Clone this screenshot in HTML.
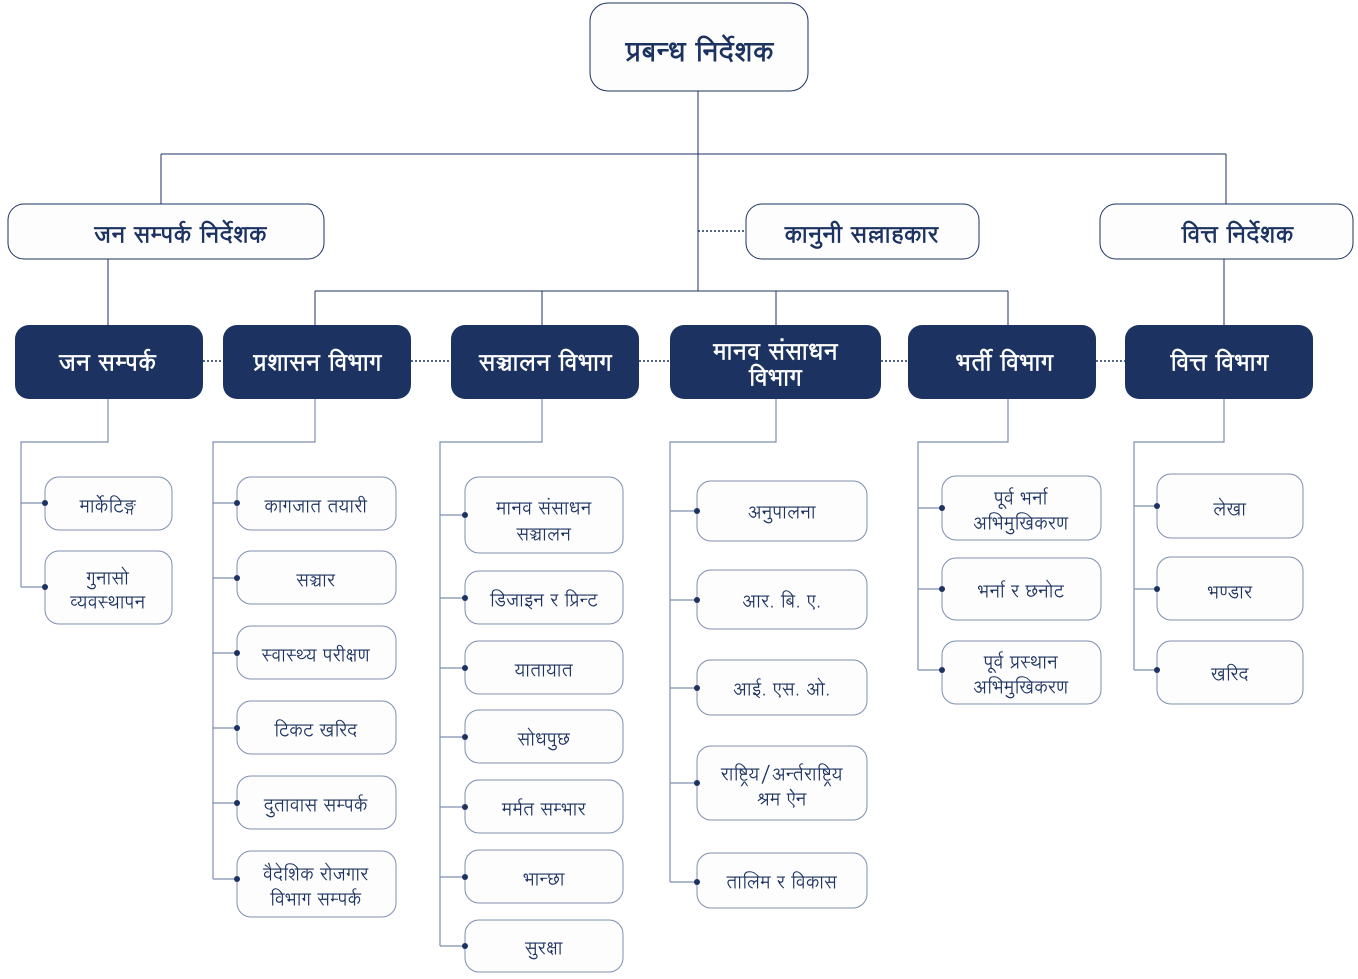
<!DOCTYPE html>
<html><head><meta charset="utf-8"><style>
body{margin:0;background:#fff}
svg{display:block}
text{font-family:"Lohit Devanagari","Noto Sans Devanagari","Liberation Serif",serif;fill:#1c3260;text-anchor:middle;dominant-baseline:central;transform:translateY(3px);letter-spacing:0.5px}
.c{fill:#fdfdfd;stroke:#7f8fb0;stroke-width:1}
.t{fill:#fdfdfd;stroke:#1c3260;stroke-width:1}
.d{fill:#1c3260}
.w{fill:#fff;font-size:23px;font-weight:bold;letter-spacing:1px}
.s{font-size:18px}
.m{font-size:23px;font-weight:bold;letter-spacing:1px}
.ln{stroke:#1c3260;stroke-width:1;fill:none}
.lc{stroke:#7f8fb0;stroke-width:1.2;fill:none}
.dt{stroke:#1c3260;stroke-width:1.5;stroke-dasharray:2 2;fill:none}
</style></head><body>
<svg width="1358" height="979" viewBox="0 0 1358 979">
<path class="ln" d="M698 91V291M161 154H1226M161 154V204M1226 154V204M108 259V325M1224 259V325M315 291H1008M315 291V325M542 291V325M776 291V325M1008 291V325"/>
<path class="dt" d="M698 231H746M203 361H223M411 361H451M639 361H670M881 361H908M1096 361H1125"/>
<rect class="t" x="590" y="3" width="218" height="88" rx="18"/>
<text x="700" y="50" style="font-size:27px;font-weight:bold;letter-spacing:1px">प्रबन्ध निर्देशक</text>
<rect class="t" x="8" y="204" width="316" height="55" rx="16"/>
<text x="181" y="233" class="m">जन सम्पर्क निर्देशक</text>
<rect class="t" x="746" y="204" width="233" height="55" rx="16"/>
<text x="862" y="233" class="m">कानुनी सल्लाहकार</text>
<rect class="t" x="1100" y="204" width="253" height="55" rx="16"/>
<text x="1238" y="233" class="m">वित्त निर्देशक</text>
<rect class="d" x="15" y="325" width="188" height="74" rx="14"/>
<text x="108" y="361" class="w">जन सम्पर्क</text>
<rect class="d" x="223" y="325" width="188" height="74" rx="14"/>
<text x="318" y="361" class="w">प्रशासन विभाग</text>
<rect class="d" x="451" y="325" width="188" height="74" rx="14"/>
<text x="546" y="361" class="w">सञ्चालन विभाग</text>
<rect class="d" x="670" y="325" width="211" height="74" rx="14"/>
<text x="776" y="350" class="w">मानव संसाधन</text>
<text x="776" y="376" class="w">विभाग</text>
<rect class="d" x="908" y="325" width="188" height="74" rx="14"/>
<text x="1005" y="361" class="w">भर्ती विभाग</text>
<rect class="d" x="1125" y="325" width="188" height="74" rx="14"/>
<text x="1220" y="361" class="w">वित्त विभाग</text>
<path class="lc" d="M108 399V442H21V587M21 503H45M21 587H45"/>
<path class="lc" d="M315 399V442H213V879M213 503H237M213 578H237M213 653H237M213 728H237M213 803H237M213 879H237"/>
<path class="lc" d="M542 399V442H440V946M440 515H465M440 598H465M440 668H465M440 737H465M440 807H465M440 877H465M440 946H465"/>
<path class="lc" d="M776 399V442H670V882M670 511H697M670 600H697M670 688H697M670 783H697M670 882H697"/>
<path class="lc" d="M1008 399V442H918V670M918 508H942M918 589H942M918 670H942"/>
<path class="lc" d="M1224 399V442H1134V670M1134 506H1157M1134 589H1157M1134 670H1157"/>
<rect class="c" x="45" y="477" width="127" height="53" rx="14"/><text x="108" y="505" class="s">मार्केटिङ्ग</text>
<rect class="c" x="45" y="551" width="127" height="73" rx="14"/><text x="108" y="577" class="s">गुनासो</text><text x="108" y="601" class="s">व्यवस्थापन</text>
<rect class="c" x="237" y="477" width="159" height="53" rx="14"/><text x="316" y="505" class="s">कागजात तयारी</text>
<rect class="c" x="237" y="551" width="159" height="53" rx="14"/><text x="316" y="579" class="s">सञ्चार</text>
<rect class="c" x="237" y="626" width="159" height="53" rx="14"/><text x="316" y="654" class="s">स्वास्थ्य परीक्षण</text>
<rect class="c" x="237" y="701" width="159" height="53" rx="14"/><text x="316" y="729" class="s">टिकट खरिद</text>
<rect class="c" x="237" y="776" width="159" height="53" rx="14"/><text x="316" y="804" class="s">दुतावास सम्पर्क</text>
<rect class="c" x="237" y="851" width="159" height="66" rx="14"/><text x="316" y="873" class="s">वैदेशिक रोजगार</text><text x="316" y="898" class="s">विभाग सम्पर्क</text>
<rect class="c" x="465" y="477" width="158" height="76" rx="14"/><text x="544" y="507" class="s">मानव संसाधन</text><text x="544" y="533" class="s">सञ्चालन</text>
<rect class="c" x="465" y="571" width="158" height="53" rx="14"/><text x="544" y="599" class="s">डिजाइन र प्रिन्ट</text>
<rect class="c" x="465" y="641" width="158" height="53" rx="14"/><text x="544" y="669" class="s">यातायात</text>
<rect class="c" x="465" y="710" width="158" height="53" rx="14"/><text x="544" y="738" class="s">सोधपुछ</text>
<rect class="c" x="465" y="780" width="158" height="53" rx="14"/><text x="544" y="808" class="s">मर्मत सम्भार</text>
<rect class="c" x="465" y="850" width="158" height="53" rx="14"/><text x="544" y="878" class="s">भान्छा</text>
<rect class="c" x="465" y="920" width="158" height="52" rx="14"/><text x="544" y="947" class="s">सुरक्षा</text>
<rect class="c" x="697" y="481" width="170" height="60" rx="14"/><text x="782" y="511" class="s">अनुपालना</text>
<rect class="c" x="697" y="570" width="170" height="59" rx="14"/><text x="782" y="600" class="s">आर. बि. ए.</text>
<rect class="c" x="697" y="660" width="170" height="55" rx="14"/><text x="782" y="688" class="s">आई. एस. ओ.</text>
<rect class="c" x="697" y="746" width="170" height="74" rx="14"/><text x="782" y="773" class="s">राष्ट्रिय/अर्न्तराष्ट्रिय</text><text x="782" y="798" class="s">श्रम ऐन</text>
<rect class="c" x="697" y="853" width="170" height="55" rx="14"/><text x="782" y="881" class="s">तालिम र विकास</text>
<rect class="c" x="942" y="476" width="159" height="64" rx="14"/><text x="1021" y="497" class="s">पूर्व भर्ना</text><text x="1021" y="522" class="s">अभिमुखिकरण</text>
<rect class="c" x="942" y="558" width="159" height="62" rx="14"/><text x="1021" y="590" class="s">भर्ना र छनोट</text>
<rect class="c" x="942" y="641" width="159" height="63" rx="14"/><text x="1021" y="661" class="s">पूर्व प्रस्थान</text><text x="1021" y="686" class="s">अभिमुखिकरण</text>
<rect class="c" x="1157" y="474" width="146" height="64" rx="14"/><text x="1230" y="508" class="s">लेखा</text>
<rect class="c" x="1157" y="557" width="146" height="63" rx="14"/><text x="1230" y="591" class="s">भण्डार</text>
<rect class="c" x="1157" y="641" width="146" height="63" rx="14"/><text x="1230" y="673" class="s">खरिद</text>
<g fill="#1c3260">
<circle cx="45" cy="503" r="3"/><circle cx="45" cy="587" r="3"/>
<circle cx="237" cy="503" r="3"/><circle cx="237" cy="578" r="3"/><circle cx="237" cy="653" r="3"/><circle cx="237" cy="728" r="3"/><circle cx="237" cy="803" r="3"/><circle cx="237" cy="879" r="3"/>
<circle cx="465" cy="515" r="3"/><circle cx="465" cy="598" r="3"/><circle cx="465" cy="668" r="3"/><circle cx="465" cy="737" r="3"/><circle cx="465" cy="807" r="3"/><circle cx="465" cy="877" r="3"/><circle cx="465" cy="946" r="3"/>
<circle cx="697" cy="511" r="3"/><circle cx="697" cy="600" r="3"/><circle cx="697" cy="688" r="3"/><circle cx="697" cy="783" r="3"/><circle cx="697" cy="882" r="3"/>
<circle cx="942" cy="508" r="3"/><circle cx="942" cy="589" r="3"/><circle cx="942" cy="670" r="3"/>
<circle cx="1157" cy="506" r="3"/><circle cx="1157" cy="589" r="3"/><circle cx="1157" cy="670" r="3"/>
</g>
</svg>
</body></html>
